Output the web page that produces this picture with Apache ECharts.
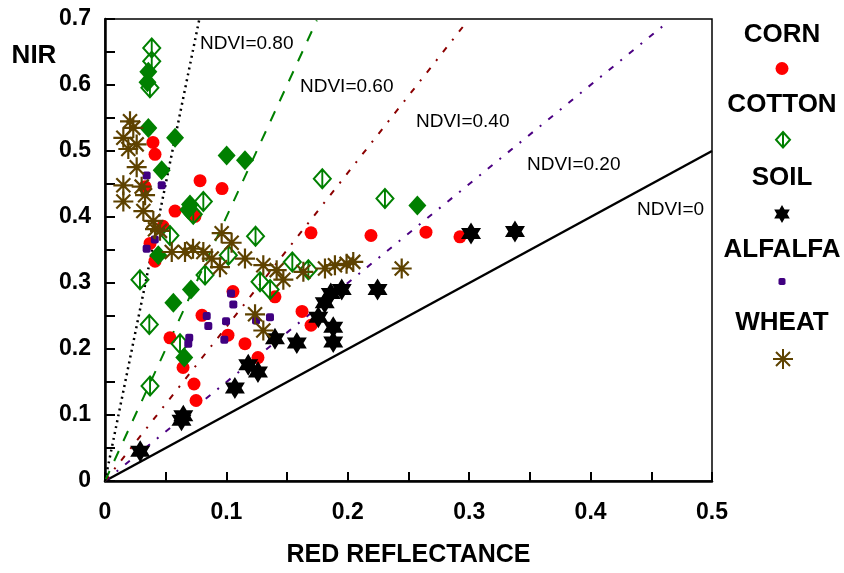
<!DOCTYPE html>
<html>
<head>
<meta charset="utf-8">
<script src="https://cdn.jsdelivr.net/npm/echarts@6/dist/echarts.min.js"></script>
<style>
  html, body { margin: 0; padding: 0; background: #fff; }
  #chart { width: 844px; height: 573px; }
</style>
</head>
<body>
<div id="chart"></div>
<script>
// values: [red reflectance, NIR]
var corn = [
    [0.0395, 0.513], [0.0412, 0.495], [0.033, 0.446], [0.0783, 0.455], [0.0964, 0.443],
    [0.0577, 0.409], [0.0741, 0.401], [0.0478, 0.386], [0.0371, 0.360], [0.0412, 0.333],
    [0.1054, 0.287], [0.140, 0.279], [0.0799, 0.251], [0.1013, 0.221], [0.0535, 0.217],
    [0.1153, 0.208], [0.126, 0.187], [0.0643, 0.172], [0.0733, 0.147], [0.075, 0.122],
    [0.1623, 0.257], [0.1697, 0.236], [0.1697, 0.376], [0.2191, 0.372], [0.2644, 0.377],
    [0.2924, 0.370]
];
var cottonOpen = [
    [0.0385, 0.656], [0.0385, 0.636], [0.037, 0.596], [0.081, 0.4235], [0.0727, 0.404],
    [0.0535, 0.372], [0.124, 0.371], [0.0288, 0.305], [0.0824, 0.312], [0.1016, 0.342],
    [0.0365, 0.237], [0.0618, 0.208], [0.0371, 0.144], [0.179, 0.458], [0.1543, 0.332],
    [0.1675, 0.320], [0.1277, 0.302], [0.136, 0.290], [0.2306, 0.428]
];
var cottonFilled = [
    [0.0357, 0.620], [0.035, 0.604], [0.0357, 0.535], [0.0577, 0.520], [0.1002, 0.493],
    [0.1153, 0.486], [0.0467, 0.471], [0.07, 0.419], [0.0686, 0.411], [0.0439, 0.342],
    [0.0708, 0.290], [0.0563, 0.270], [0.0653, 0.187], [0.2573, 0.4175]
];
var soil = [
    [0.029, 0.045], [0.0645, 0.099], [0.063, 0.092], [0.107, 0.141], [0.118, 0.176],
    [0.126, 0.165], [0.14, 0.2155], [0.158, 0.209], [0.1757, 0.248], [0.188, 0.233],
    [0.188, 0.2105], [0.181, 0.270], [0.186, 0.284], [0.195, 0.290], [0.2245, 0.290],
    [0.3015, 0.375], [0.3377, 0.378]
];
var alfalfa = [
    [0.0343, 0.463], [0.0467, 0.448], [0.0343, 0.352], [0.041, 0.366], [0.1038, 0.284],
    [0.1057, 0.2675], [0.0838, 0.250], [0.0851, 0.235], [0.0997, 0.242], [0.0983, 0.214],
    [0.0694, 0.217], [0.0686, 0.208], [0.1359, 0.248], [0.1244, 0.243]
];
var wheat = [
    [0.0206, 0.545], [0.0233, 0.535], [0.0151, 0.520], [0.0261, 0.510], [0.0192, 0.503],
    [0.0261, 0.4755], [0.0151, 0.448], [0.0151, 0.4235], [0.0302, 0.446], [0.033, 0.433],
    [0.0316, 0.409], [0.0398, 0.394], [0.0412, 0.3815], [0.0453, 0.379], [0.055, 0.347],
    [0.0659, 0.347], [0.0725, 0.352], [0.081, 0.347], [0.0879, 0.337], [0.0947, 0.324],
    [0.0961, 0.3755], [0.1043, 0.361], [0.1153, 0.337], [0.1304, 0.327], [0.1414, 0.3195],
    [0.1469, 0.305], [0.1634, 0.317], [0.1812, 0.322], [0.1894, 0.327], [0.199, 0.329],
    [0.2045, 0.332], [0.2444, 0.322], [0.1236, 0.2526], [0.1304, 0.228]
];

// NDVI reference lines, from origin to the end
var ndviNames = ['NDVI=0', 'NDVI=0.20', 'NDVI=0.40', 'NDVI=0.60', 'NDVI=0.80'];
var ndviEnds = [[0.5, 0.5], [0.462, 0.693], [0.296, 0.691], [0.1745, 0.698], [0.0775, 0.698]];

var xTicks = [0, 0.1, 0.2, 0.3, 0.4, 0.5];
var yTicks = [0, 0.1, 0.2, 0.3, 0.4, 0.5, 0.6, 0.7];
var legendNames = ['CORN', 'COTTON', 'SOIL', 'ALFALFA', 'WHEAT'];

var FONT = "'Liberation Sans', Arial, sans-serif";
var STAR = 'path://M0,-10L2.89,-5L8.66,-5L5.77,0L8.66,5L2.89,5L0,10L-2.89,5L-8.66,5L-5.77,0L-8.66,-5L-2.89,-5Z';
var OPEN_DIAMOND = 'path://M0,0L9,10L0,20L-9,10Z M0,0L0,20';
var ASTERISK = 'path://M0,-10L0,10M-10,0L10,0M-7,-7L7,7M-7,7L7,-7';

var lineStyles = [
    { color: '#000000', width: 2.5, type: 'solid' },
    { color: '#4b0082', width: 2, type: [6, 9, 2, 9] },
    { color: '#8b0000', width: 2, type: [6, 9, 2, 9] },
    { color: '#008000', width: 2, type: [11, 11] },
    { color: '#000000', width: 2.5, type: [2, 4] }
];

var myChart = echarts.init(document.getElementById('chart'));

var series = [];
for (var i = 0; i < ndviEnds.length; i++) {
    series.push({
        name: ndviNames[i],
        type: 'line',
        data: [[0, 0], ndviEnds[i]],
        symbol: 'none',
        silent: true,
        lineStyle: lineStyles[i],
        z: 1
    });
}
series.push({
    name: 'CORN', type: 'scatter', data: corn,
    symbol: 'circle', symbolSize: 13,
    itemStyle: { color: '#ff0000', opacity: 1 }, z: 2
});
series.push({
    name: 'COTTON', type: 'scatter', data: cottonOpen,
    symbol: OPEN_DIAMOND, symbolSize: [17, 19],
    itemStyle: { color: 'rgba(255,255,255,0)', borderColor: '#008000', borderWidth: 2, opacity: 1 }, z: 3
});
series.push({
    name: 'COTTON2', type: 'scatter', data: cottonFilled,
    symbol: 'diamond', symbolSize: [18, 20],
    itemStyle: { color: '#008000', opacity: 1 }, z: 3
});
series.push({
    name: 'SOIL', type: 'scatter', data: soil,
    symbol: STAR, symbolSize: [20, 22],
    itemStyle: { color: '#000000', opacity: 1 }, z: 4
});
series.push({
    name: 'ALFALFA', type: 'scatter', data: alfalfa,
    symbol: 'roundRect', symbolSize: 8,
    itemStyle: { color: '#400080', opacity: 1 }, z: 5
});
series.push({
    name: 'WHEAT', type: 'scatter', data: wheat,
    symbol: ASTERISK, symbolSize: 20,
    itemStyle: { color: 'rgba(255,255,255,0)', borderColor: '#5e4200', borderWidth: 2.2, opacity: 1 }, z: 6
});

// one legend per entry so the name sits above its marker
var legendTops = [62, 131, 205, 278, 348];
var legendSizes = [[13, 13], [14, 17], [17, 18], [7, 7], [20, 20]];
var legends = legendNames.map(function (n, k) {
    return {
        data: [n],
        left: 782 - legendSizes[k][0] / 2,
        top: legendTops[k],
        itemWidth: legendSizes[k][0],
        itemHeight: legendSizes[k][1],
        itemGap: 0,
        padding: 0,
        selectedMode: false,
        formatter: function () { return ''; },
        textStyle: { fontSize: 1, padding: 0 }
    };
});

var legendTextY = [35, 105, 178, 250, 323];
var graphics = legendNames.map(function (n, k) {
    return {
        type: 'text', x: 782, y: legendTextY[k],
        style: { text: n, font: 'bold 26px ' + FONT, fill: '#000', align: 'center', verticalAlign: 'middle' }
    };
});
var ndviLabelPos = [[637, 210], [527, 165], [416, 122], [300, 87], [200, 44]];
ndviNames.forEach(function (n, k) {
    graphics.push({
        type: 'text', x: ndviLabelPos[k][0], y: ndviLabelPos[k][1],
        style: { text: n, font: '19px ' + FONT, fill: '#000', verticalAlign: 'middle' }
    });
});
graphics.push({
    type: 'text', x: 34, y: 56,
    style: { text: 'NIR', font: 'bold 26px ' + FONT, fill: '#000', align: 'center', verticalAlign: 'middle' }
});

var option = {
    animation: false,
    backgroundColor: '#ffffff',
    grid: {
        left: 105, right: 132, top: 19, bottom: 83,
        show: true, borderColor: '#000', borderWidth: 1.5
    },
    legend: legends,
    xAxis: {
        type: 'value',
        min: xTicks[0], max: xTicks[xTicks.length - 1], interval: 0.1,
        name: 'RED REFLECTANCE', nameLocation: 'middle', nameGap: 62,
        nameTextStyle: { fontFamily: FONT, fontWeight: 'bold', fontSize: 25, color: '#000' },
        axisLine: { lineStyle: { color: '#000', width: 2.5 } },
        axisTick: { inside: true, length: 9, lineStyle: { color: '#000', width: 2 } },
        minorTick: { show: true, splitNumber: 2, length: 9, lineStyle: { color: '#000', width: 2 } },
        splitLine: { show: false },
        axisLabel: { fontFamily: FONT, fontWeight: 'bold', fontSize: 23, color: '#000', margin: 20 }
    },
    yAxis: {
        type: 'value',
        min: yTicks[0], max: yTicks[yTicks.length - 1], interval: 0.1,
        axisLine: { lineStyle: { color: '#000', width: 2.5 } },
        axisTick: { inside: true, length: 10, lineStyle: { color: '#000', width: 2 } },
        minorTick: { show: true, splitNumber: 2, length: 10, lineStyle: { color: '#000', width: 2 } },
        splitLine: { show: false },
        axisLabel: { fontFamily: FONT, fontWeight: 'bold', fontSize: 23, color: '#000', margin: 14 }
    },
    graphic: graphics,
    series: series
};

myChart.setOption(option);
</script>
</body>
</html>
